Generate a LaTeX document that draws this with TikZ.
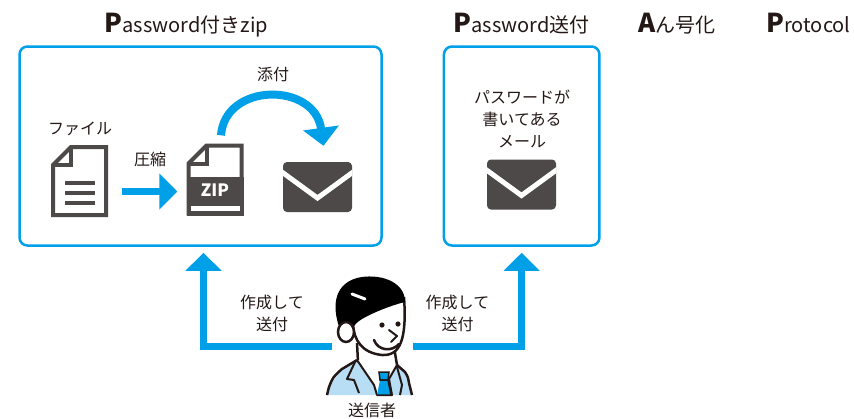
\documentclass[tikz,border=0pt]{standalone}
\usepackage{fontspec}
\setmainfont{Noto Sans CJK JP}
\usetikzlibrary{arrows.meta, positioning}

\definecolor{flowblue}{RGB}{0,160,233}
\definecolor{icongray}{RGB}{77,73,72}
\definecolor{inkblack}{RGB}{35,24,21}
\definecolor{suitblue}{RGB}{184,222,246}

\newcommand{\capletter}[1]{{\fontsize{26}{26}\selectfont\bfseries #1}}

\tikzset{
    x=1pt, y=-1pt, % one unit per pixel, y grows downwards
    panel/.style={draw=flowblue, line width=2.5pt, rounded corners=8pt, inner sep=0pt},
    heading/.style={anchor=base, inner sep=0pt, text=inkblack, font=\fontsize{20}{24}\selectfont},
    caption/.style={align=center, inner sep=0pt, text=inkblack, font=\fontsize{16}{22}\selectfont},
    iconbox/.style={minimum width=57pt, minimum height=72pt, inner sep=0pt},
    mailbox/.style={minimum width=69pt, minimum height=50pt, inner sep=0pt},
    flow/.style={draw=flowblue, line width=7pt, -{Triangle[width=35pt, length=18pt]}},
    bendflow/.style={flow, line width=8pt},
    % sheet of paper with a folded corner
    sheet/.pic={
        \draw[icongray, line width=4pt, line join=miter] (-8.5,-34) -- (26.5,-34) -- (26.5,34) -- (-26.5,34) -- (-26.5,-16) -- cycle;
        \draw[icongray, line width=4pt] (-8.5,-34) -- (-8.5,-16) -- (-26.5,-16);
    },
    docicon/.pic={
        \pic {sheet};
        \foreach \yy in {2,12,22}
            \draw[icongray, line width=4pt] (-14.5,\yy) -- (15.5,\yy);
    },
    zipicon/.pic={
        \pic {sheet};
        \fill[icongray] (-28.5,-2.5) rectangle (28.5,36);
        \fill[white] (-24.5,26.5) rectangle (24.5,31.5);
        \node[text=white, font=\fontsize{17}{17}\selectfont\bfseries] at (0,11) {ZIP};
    },
    envelope/.pic={
        \fill[icongray, rounded corners=4pt] (-34.5,-25) rectangle (34.5,25);
        \begin{scope}
            \clip (-34.5,-25) rectangle (34.5,25);
            \draw[white, line width=5pt, line join=miter] (-37,-16) -- (0,11) -- (37,-16);
        \end{scope}
    },
    staff/.pic={
        % jacket
        \fill[suitblue] (-45,60) -- (-43,52) -- (-30,34) -- (-15,25) -- (25,30) -- (33,37) -- (37,48) -- (40,60) -- cycle;
        \draw[inkblack, line width=2.5pt, line join=round] (-45,60) -- (-43,52) .. controls (-39,42) .. (-30,34) -- (-15,25);
        \draw[inkblack, line width=2.5pt, line join=round] (25,30) -- (33,37) .. controls (36,42) .. (37,48) -- (40,60);
        \draw[inkblack, line width=2pt, line join=round] (-17,27) -- (-25,44) -- (-18,45) -- (-13,58);
        \draw[inkblack, line width=2pt, line join=round] (25,32) -- (30,50) -- (28,60);
        % neck and shirt
        \fill[white] (-15,8) -- (-13,30) -- (25,32) -- (22,8) -- cycle;
        \draw[inkblack, line width=2.5pt] (-15,8) -- (-14,27) (22,12) -- (25,30);
        \filldraw[fill=white, draw=inkblack, line width=2pt, line join=round] (-15,25) -- (2,50) -- (5,60) -- (20,60) -- (17,44) -- (25,30);
        % tie
        \filldraw[fill=flowblue, draw=inkblack, line width=1.5pt] (7,37) -- (17,37) -- (16,45) -- (8,45) -- cycle;
        \filldraw[fill=flowblue, draw=inkblack, line width=1.5pt] (8,45) -- (16,45) -- (19,60) -- (5,60);
        % face
        \filldraw[fill=white, draw=inkblack, line width=2.5pt] (-19,-10) .. controls (-18,5) and (-10,18) .. (10,20) .. controls (28,21) and (35,5) .. (32,-38);
        % hair
        \fill[black] (-31,-3) .. controls (-40,-25) and (-40,-50) .. (-15,-57) .. controls (5,-62) and (33,-55) .. (33,-33) .. controls (20,-30) and (0,-22) .. (-10,-16) .. controls (-15,-13) and (-18,-10) .. (-20,-5) -- cycle;
        \draw[white, line width=3pt, line cap=round] (-20,-41) -- (-7,-36);
        % ear
        \filldraw[fill=white, draw=inkblack, line width=2.5pt] (-26,-3) ellipse [x radius=8, y radius=10];
        % eyes, nose, mouth
        \fill[inkblack] (10,-10) circle [radius=2.6] (26,-11) circle [radius=2.6];
        \draw[inkblack, line width=2pt, line join=round, line cap=round] (17,-5) -- (25,1) -- (19,7);
        \draw[inkblack, line width=2.5pt, line cap=round] (2,5) .. controls (6,16) and (20,17) .. (27,9);
    }
}

\begin{document}
\begin{tikzpicture}
    \useasboundingbox (0,0) rectangle (854,418);

    % headings
    \node[heading] (tzip) at (186.5,32.5) {\capletter{P}assword付きzip};
    \node[heading] (tpass) at (521.5,32.5) {\capletter{P}assword送付};
    \node[heading] (tenc) at (677,32.5) {\capletter{A}ん号化};
    \node[heading] (tproto) at (808.5,32.5) {\capletter{P}rotocol};

    % panels
    \node[panel, minimum width=362pt, minimum height=199pt] (zipbox) at (200.5,146) {};
    \node[panel, minimum width=155.5pt, minimum height=199pt] (passbox) at (521.7,146) {};

    % icons
    \node[iconbox] (file) at (79.5,181) {};
    \pic at (file) {docicon};
    \node[iconbox] (zip) at (215,179.5) {};
    \pic at (zip) {zipicon};
    \node[mailbox] (mail1) at (317.5,187) {};
    \pic at (mail1) {envelope};
    \node[mailbox] (mail2) at (521.5,184.5) {};
    \pic at (mail2) {envelope};
    \node[minimum width=81pt, minimum height=120pt, inner sep=0pt] (sender) at (372.5,335) {};
    \pic at (372,335) {staff};

    % texts
    \node[caption] (filelbl) at (80,128.5) {ファイル};
    \node[caption] (packlbl) at (150,159.5) {圧縮};
    \node[caption] (attachlbl) at (273,74.5) {添付};
    \node[caption] (mailtxt) at (522,119) {パスワードが\\書いてある\\メール};
    \node[caption] (sendl) at (272,313) {作成して\\送付};
    \node[caption] (sendr) at (457.5,313) {作成して\\送付};
    \node[caption] (senderlbl) at (372,410) {送信者};

    % arrows
    \draw[flow] ([xshift=14pt, yshift=-10.5pt]file.east) -- ([xshift=-9pt, yshift=-12pt]zip.west);
    \draw[bendflow] ([xshift=6pt, yshift=8pt]zip.north) .. controls +(4,-53) and +(-9,-64) .. ([xshift=6pt, yshift=16pt]mail1.north);
    \draw[flow, shorten >=6pt] ([yshift=-11pt]sender.west) -| ([xshift=3pt]zipbox.south);
    \draw[flow, shorten >=6pt] ([yshift=-11pt]sender.east) -| (passbox.south);
\end{tikzpicture}
\end{document}
